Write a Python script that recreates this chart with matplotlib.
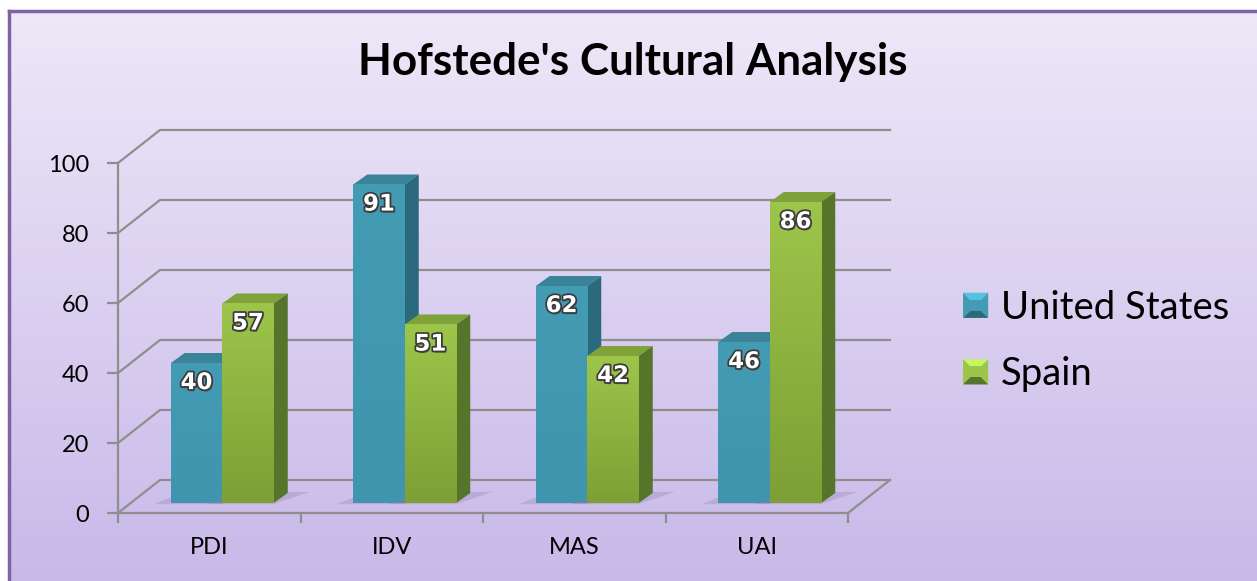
import numpy as np
import matplotlib
matplotlib.use("Agg")
import matplotlib.pyplot as plt
from matplotlib.patches import Polygon, Patch
from matplotlib.legend_handler import HandlerPatch
import matplotlib.patheffects as pe

# data
categories = ["PDI", "IDV", "MAS", "UAI"]
series_names = ["United States", "Spain"]
us_values = [40, 91, 62, 46]
spain_values = [57, 51, 42, 86]
y_ticks = [0, 20, 40, 60, 80, 100]

# colours: front top, front bottom, top face, side face
us_cols = ("#449BB4", "#3F95AE", "#3A8398", "#2B6A7C")
es_cols = ("#9DC54A", "#7E9F35", "#7FA23A", "#56742A")

plt.rcParams['font.family'] = ['Lato', 'DejaVu Sans']

W, H = 1257, 581
fig = plt.figure(figsize=(W / 100, H / 100), dpi=100)
fig.patch.set_facecolor("white")

# background panel with gradient
bg = fig.add_axes([9 / W, 0, 1 - 9 / W, 1 - 11 / H])
grad = np.linspace(0, 1, 256).reshape(-1, 1)
top_c = np.array([238, 232, 248]) / 255
bot_c = np.array([200, 185, 233]) / 255
img = top_c + (bot_c - top_c) * grad[..., None]
bg.imshow(img, aspect="auto", extent=[0, 1, 0, 1], origin="upper")
bg.set_xlim(0, 1)
bg.set_ylim(0, 1)
bg.axis("off")
bg.plot([0, 0], [0, 1], color="#8064A2", lw=2.5, transform=bg.transAxes, clip_on=False)
bg.plot([0, 1], [1, 1], color="#8064A2", lw=2.5, transform=bg.transAxes, clip_on=False)

# main plot area (front plane)
ax = fig.add_axes([118 / W, 1 - 513 / H, 730 / W, 350 / H])
ax.set_facecolor("none")
ax.set_xlim(0, 4)
ax.set_ylim(0, 100)

px_x = 730 / 4.0   # pixels per category
px_y = 350 / 100.0  # pixels per value unit
wall_dx, wall_dy = 42 / px_x, 33 / px_y
off_x, off_y = 13 / px_x, 10 / px_y
dep_x, dep_y = 14 / px_x, 10 / px_y
bw = 51.5 / px_x

grid_c = "#8E8E8E"
for v in y_ticks:
    ax.plot([0, wall_dx, 4 + wall_dx], [v, v + wall_dy, v + wall_dy],
            color=grid_c, lw=1.6, clip_on=False, zorder=1)
ax.plot([4, 4 + wall_dx], [0, wall_dy], color=grid_c, lw=1.6, clip_on=False, zorder=1)

for s in ["top", "right"]:
    ax.spines[s].set_visible(False)
for s in ["left", "bottom"]:
    ax.spines[s].set_color(grid_c)
    ax.spines[s].set_linewidth(1.6)

ax.set_yticks(y_ticks)
ax.tick_params(axis="y", colors=grid_c, length=8, width=1.6, pad=13,
               labelsize=17, labelcolor="black")
ax.set_xticks(range(5))
ax.set_xticklabels([])
ax.tick_params(axis="x", which="major", colors=grid_c, length=7, width=1.6)
ax.set_xticks(np.arange(4) + 0.5, minor=True)
ax.set_xticklabels(categories, minor=True)
ax.tick_params(axis="x", which="minor", length=0, pad=17, labelsize=17)


def draw_bar(xl, v, cols, z):
    # soft floor shadow behind the bar
    sh = Polygon([(xl - 0.09, off_y - 0.3), (xl + bw, off_y - 0.3),
                  (xl + bw + dep_x + 0.12, off_y + dep_y + 0.3),
                  (xl + dep_x, off_y + dep_y + 0.3)],
                 closed=True, facecolor="#8C7AA8", alpha=0.3, lw=0,
                 clip_on=False, zorder=z - 0.5)
    ax.add_patch(sh)
    bars = ax.bar(xl, v, bw, bottom=off_y, align="edge", color=cols[1],
                  lw=0, zorder=z)
    r = bars[0]
    g = np.linspace(0, 1, 64).reshape(-1, 1)
    c1 = np.array(matplotlib.colors.to_rgb(cols[0]))
    c2 = np.array(matplotlib.colors.to_rgb(cols[1]))
    ax.imshow(c1 + (c2 - c1) * g[..., None], aspect="auto", origin="upper",
              extent=[r.get_x(), r.get_x() + r.get_width(), off_y, off_y + v],
              zorder=z + 0.1, clip_on=False)
    top = Polygon([(xl, off_y + v), (xl + bw, off_y + v),
                   (xl + bw + dep_x, off_y + v + dep_y), (xl + dep_x, off_y + v + dep_y)],
                  closed=True, facecolor=cols[2], lw=0, clip_on=False, zorder=z)
    side = Polygon([(xl + bw, off_y), (xl + bw + dep_x, off_y + dep_y),
                    (xl + bw + dep_x, off_y + v + dep_y), (xl + bw, off_y + v)],
                   closed=True, facecolor=cols[3], lw=0, clip_on=False, zorder=z)
    ax.add_patch(top)
    ax.add_patch(side)
    ax.text(xl + bw / 2, off_y + v - 5.6, str(v), ha="center", va="center",
            color="white", fontsize=16.5, fontweight="heavy", family="DejaVu Sans",
            zorder=z + 1, clip_on=False,
            path_effects=[pe.withSimplePatchShadow(offset=(1, -1.5), shadow_rgbFace="#333333", alpha=0.6),
                          pe.withStroke(linewidth=2.5, foreground="#3a3a3a")])


for i in range(4):
    cx = i + 0.5 + off_x
    draw_bar(cx - bw, us_values[i], us_cols, 3 + i * 2)
    draw_bar(cx, spain_values[i], es_cols, 4 + i * 2)

ax.set_xlim(0, 4)
ax.set_ylim(0, 100)

fig.text(633 / W, 1 - 62 / H, "Hofstede's Cultural Analysis", ha="center", va="center",
         fontsize=31.7, fontweight="bold")


class BevelHandler(HandlerPatch):
    # square legend key drawn as a little bevelled pyramid
    def create_artists(self, legend, orig, xd, yd, width, height, fontsize, trans):
        s = min(width, height)
        x0, y0 = -xd, -yd + (height - s) / 2
        cx, cy = x0 + s / 2, y0 + s / 2
        fc = orig.get_facecolor()
        dark = orig.get_edgecolor()
        light = [min(1, c * 1.25) for c in fc[:3]]
        out = []
        faces = [([(x0, y0 + s), (x0 + s, y0 + s), (cx, cy)], light),
                 ([(x0, y0), (x0, y0 + s), (cx, cy)], fc),
                 ([(x0 + s, y0), (x0 + s, y0 + s), (cx, cy)], fc),
                 ([(x0, y0), (x0 + s, y0), (cx, cy)], dark)]
        for pts, c in faces:
            p = Polygon(pts, closed=True, facecolor=c, lw=0, transform=trans)
            out.append(p)
        inner = 0.28 * s
        p = Polygon([(x0 + inner, y0 + inner), (x0 + s - inner, y0 + inner),
                     (x0 + s - inner, y0 + s - inner), (x0 + inner, y0 + s - inner)],
                    closed=True, facecolor=fc, lw=0, transform=trans)
        out.append(p)
        return out


handles = [Patch(facecolor=us_cols[0], edgecolor=us_cols[3]),
           Patch(facecolor=es_cols[0], edgecolor=es_cols[3])]
fig.legend(handles, series_names, loc="center left",
           bbox_to_anchor=(963 / W, 1 - 341 / H), frameon=False,
           fontsize=27.5, handlelength=0.66, handleheight=0.66,
           handletextpad=0.34, labelspacing=0.8, borderaxespad=0, borderpad=0,
           handler_map={Patch: BevelHandler()})

fig.savefig("out.png", dpi=100)
